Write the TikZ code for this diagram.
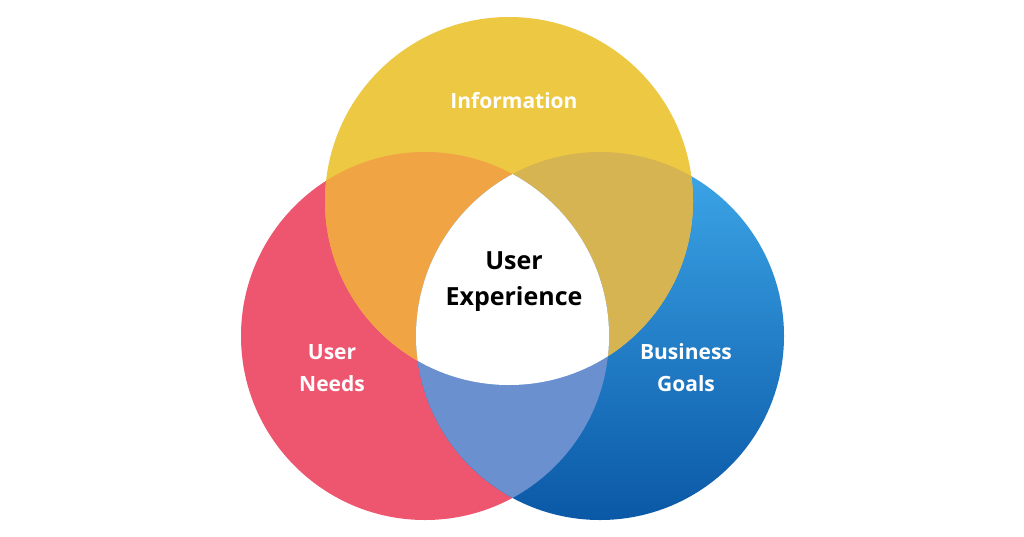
\documentclass[tikz,border=0pt]{standalone}
\usepackage{fontspec}
\setmainfont{Open Sans}
\definecolor{cyel}{HTML}{ECC843}
\definecolor{cred}{HTML}{EE5670}
\definecolor{cblueT}{HTML}{3EA8EA}
\definecolor{cblueB}{HTML}{0A58A6}
\definecolor{corange}{HTML}{F0A443}
\definecolor{colive}{HTML}{D6B452}
\definecolor{cmix}{HTML}{6A90D0}
\begin{document}
\begin{tikzpicture}[x=1pt,y=-1pt,
  lab/.style={text=white,font=\bfseries\fontsize{21}{32}\selectfont,align=center},
  mid/.style={text=black,font=\bfseries\fontsize{25}{36}\selectfont,align=center}]
\useasboundingbox (0,0) rectangle (1024,536);
\fill[white] (0,0) rectangle (1024,536);
\def\top{(509,201) circle[radius=184]}
\def\lft{(425,336) circle[radius=184]}
\def\rgt{(600,336) circle[radius=184]}
\fill[cred] \lft;
\shade[top color=cblueT,bottom color=cblueB] \rgt;
\fill[cyel] \top;
\begin{scope}\clip \top; \fill[corange] \lft; \fill[colive] \rgt; \end{scope}
\begin{scope}\clip \lft; \fill[cmix] \rgt; \end{scope}
\begin{scope}\clip \top; \clip \lft; \fill[white] \rgt; \end{scope}
\node[lab] (info) at (514,101) {Information};
\node[lab] (needs) at (332,368) {User\\Needs};
\node[lab] (goals) at (686,368) {Business\\Goals};
\node[mid] (ux) at (514,282) {User\\Experience};
\end{tikzpicture}
\end{document}
